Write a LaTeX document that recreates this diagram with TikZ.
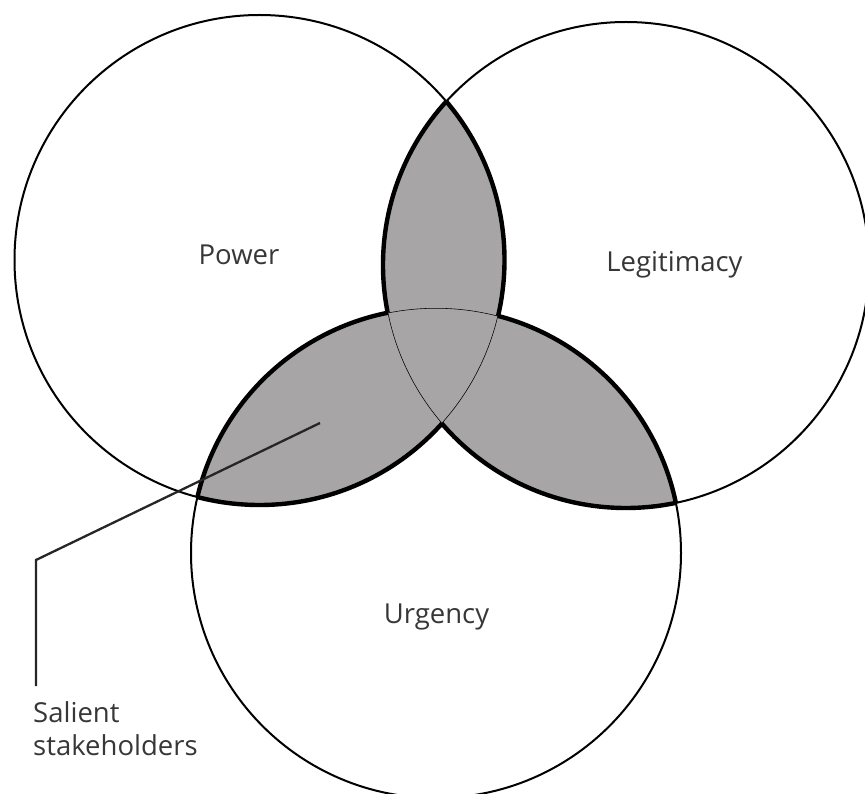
\documentclass[tikz,border=0pt]{standalone}
\usepackage{fontspec}
\setmainfont{Open Sans}
\definecolor{lensgray}{RGB}{168,165,166}
\definecolor{textgray}{RGB}{55,55,55}
\def\powerc{(259.5,260) circle[radius=245pt]}
\def\legitc{(626,265) circle[radius=243pt]}
\def\urgencyc{(436,553) circle[radius=245pt]}
\begin{document}
\begin{tikzpicture}[x=1pt,y=-1pt,
  labeltext/.style={font=\fontsize{27.5}{33}\selectfont, text=textgray, inner sep=0pt},
  outline/.style={line width=2pt},
  lensedge/.style={line width=4.4pt},
  inneredge/.style={line width=1.1pt}]
  \useasboundingbox (0,0) rectangle (865,794);

  % Three circles
  \draw[outline] \powerc;
  \draw[outline] \legitc;
  \draw[outline] \urgencyc;

  % Shaded pairwise overlaps
  \begin{scope}
    \clip \powerc;
    \fill[lensgray] \legitc;
    \fill[lensgray] \urgencyc;
  \end{scope}
  \begin{scope}
    \clip \legitc;
    \fill[lensgray] \urgencyc;
  \end{scope}

  % Heavy rims: arcs lying inside exactly one other circle
  \begin{scope}[even odd rule]
    \clip \legitc \urgencyc;
    \draw[lensedge] \powerc;
  \end{scope}
  \begin{scope}[even odd rule]
    \clip \powerc \urgencyc;
    \draw[lensedge] \legitc;
  \end{scope}
  \begin{scope}[even odd rule]
    \clip \powerc \legitc;
    \draw[lensedge] \urgencyc;
  \end{scope}

  % Fine arcs inside the common part
  \begin{scope}
    \clip \powerc;
    \clip \legitc;
    \clip \urgencyc;
    \draw[inneredge] \powerc \legitc \urgencyc;
  \end{scope}

  % Labels
  \node[labeltext, anchor=base] (power) at (239,265) {Power};
  \node[labeltext, anchor=base] (legit) at (674.5,272) {Legitimacy};
  \node[labeltext, anchor=base] (urgency) at (436.5,623) {Urgency};
  \node[labeltext, anchor=north west, align=left] (salient) at (33,701) {Salient\\stakeholders};

  % Pointer to the shaded overlaps
  \coordinate (tip) at (320,423);
  \coordinate (bend) at (36,560);
  \draw[line width=2.3pt, black!85] (tip) -- (bend) -- ([yshift=15pt]salient.north -| bend);
\end{tikzpicture}
\end{document}
